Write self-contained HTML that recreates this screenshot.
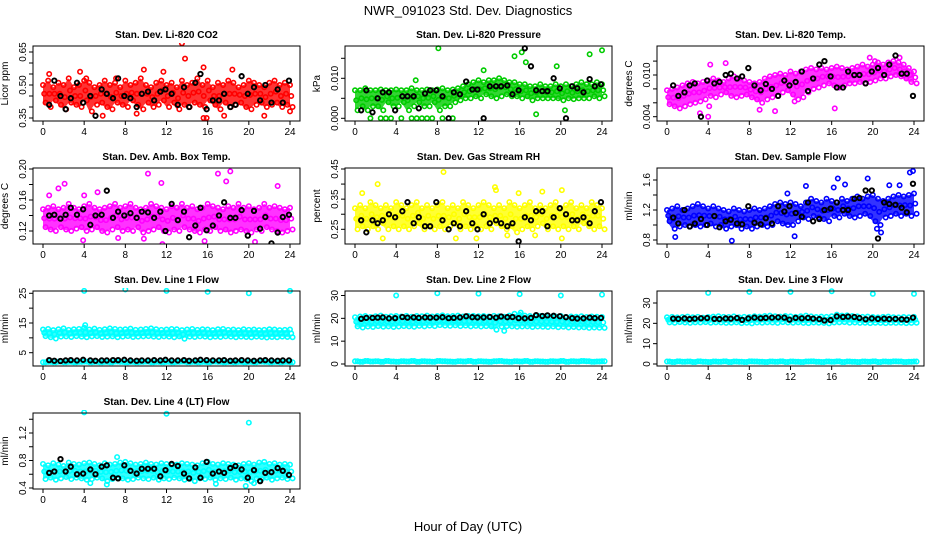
<!DOCTYPE html>
<html><head><meta charset="utf-8"><style>
body{margin:0;background:#fff;}
svg{display:block;font-family:"Liberation Sans",sans-serif;}
</style></head><body>
<svg id="chart" width="936" height="540" viewBox="0 0 936 540" xmlns="http://www.w3.org/2000/svg">
<text x="468" y="15" font-size="13" text-anchor="middle">NWR_091023  Std. Dev. Diagnostics</text>
<text x="468" y="531" font-size="13" text-anchor="middle">Hour of Day (UTC)</text>
</svg>
<script>
const hours=[0,0.5,1,1.5,2,2.5,3,3.5,4,4.5,5,5.5,6,6.5,7,7.5,8,8.5,9,9.5,10,10.5,11,11.5,12,12.5,13,13.5,14,14.5,15,15.5,16,16.5,17,17.5,18,18.5,19,19.5,20,20.5,21,21.5,22,22.5,23,23.5,24];
const hoursK=[0.6,1.1,1.7,2.2,2.7,3.3,3.9,4.6,5.1,5.7,6.2,6.8,7.3,7.9,8.5,9.1,9.6,10.2,10.8,11.4,11.9,12.5,13.1,13.7,14.2,14.8,15.3,15.9,16.5,17.1,17.6,18.2,18.7,19.3,19.9,20.5,21.1,21.6,22.2,22.8,23.3,23.9];
const xTicks=[0,4,8,12,16,20,24];

const co2A=[0.50,0.52,0.49,0.51,0.50,0.53,0.49,0.50,0.52,0.51,0.49,0.50,0.52,0.50,0.51,0.49,0.52,0.50,0.51,0.53,0.50,0.49,0.51,0.52,0.50,0.51,0.49,0.52,0.50,0.51,0.53,0.50,0.52,0.49,0.51,0.50,0.52,0.51,0.49,0.50,0.52,0.51,0.50,0.49,0.51,0.52,0.50,0.51,0.50];
const co2B=[0.42,0.40,0.43,0.41,0.39,0.42,0.41,0.40,0.43,0.38,0.41,0.42,0.40,0.39,0.42,0.41,0.40,0.43,0.41,0.39,0.42,0.40,0.41,0.43,0.40,0.42,0.39,0.41,0.40,0.42,0.41,0.40,0.43,0.41,0.39,0.42,0.40,0.41,0.42,0.40,0.39,0.41,0.42,0.40,0.41,0.42,0.40,0.41,0.40];
const co2Out=[[13.5,0.69],[13.8,0.62],[15.6,0.58],[9.8,0.57],[18.4,0.57],[0.6,0.55],[3.6,0.56],[11.7,0.56],[5.8,0.36],[15.6,0.35],[15.9,0.35],[21.5,0.36],[9.1,0.37],[17.6,0.36],[24,0.38],[4.2,0.53],[7.1,0.53]];
const co2K=[0.41,0.52,0.45,0.39,0.44,0.51,0.42,0.45,0.36,0.48,0.46,0.44,0.53,0.45,0.44,0.40,0.46,0.47,0.43,0.47,0.48,0.46,0.41,0.49,0.40,0.51,0.55,0.39,0.43,0.43,0.46,0.40,0.41,0.54,0.46,0.49,0.43,0.50,0.42,0.48,0.42,0.52];

const presA=[0.007,0.007,0.0075,0.007,0.007,0.0072,0.007,0.007,0.0072,0.007,0.007,0.0075,0.007,0.007,0.0072,0.007,0.0072,0.0075,0.007,0.0072,0.0075,0.008,0.0085,0.009,0.0095,0.009,0.0095,0.0095,0.01,0.0095,0.009,0.009,0.0085,0.0085,0.008,0.008,0.0085,0.008,0.008,0.0085,0.008,0.0085,0.008,0.0085,0.009,0.0085,0.0085,0.009,0.0085];
const presB=[0.002,0.003,0.002,0.003,0.003,0.002,0.004,0.003,0.003,0.004,0.002,0.003,0.004,0.003,0.003,0.004,0.002,0.003,0.003,0.004,0.0045,0.005,0.005,0.0055,0.005,0.006,0.0055,0.005,0.0055,0.006,0.0055,0.0055,0.005,0.0055,0.0045,0.005,0.005,0.005,0.005,0.005,0.0045,0.005,0.0048,0.005,0.005,0.005,0.0055,0.005,0.0055];
const presOut=[[1.5,0],[2.5,0],[3,0],[3.5,0],[4.5,0],[5.5,0],[6,0],[6.5,0],[7,0],[7.5,0],[8.5,0],[9.5,0],[8.1,0.0175],[16.2,0.0165],[22.8,0.016],[24,0.017],[15.5,0.0155],[16.6,0.014],[5.9,0.0095],[12.5,0.012],[17.6,0.001],[20.4,0.002],[19.6,0.013]];
const presK=[0.002,0.007,0.0015,0.005,0.0065,0.0065,0.002,0.0055,0.0055,0.0055,0.0025,0.0062,0.007,0.007,0.0055,0,0.0065,0.006,0.0092,0.0072,0.0072,0,0.008,0.008,0.008,0.0082,0.006,0.007,0.0175,0.013,0.007,0.0068,0.0068,0.010,0.0075,0,0.008,0.0075,0.0065,0.0098,0.008,0.0085];

const tempA=[0.0078,0.008,0.0082,0.0085,0.0088,0.009,0.0088,0.009,0.0092,0.0095,0.0092,0.009,0.0095,0.0098,0.0095,0.0092,0.009,0.0088,0.009,0.0095,0.0098,0.01,0.0102,0.01,0.0105,0.0102,0.0105,0.0108,0.011,0.0108,0.011,0.0108,0.011,0.0112,0.011,0.0108,0.011,0.0112,0.0115,0.0112,0.0115,0.0118,0.0115,0.0118,0.012,0.0118,0.0115,0.011,0.0105];
const tempB=[0.0058,0.0055,0.0052,0.0055,0.0058,0.006,0.0062,0.0065,0.007,0.0068,0.0072,0.0075,0.007,0.0068,0.007,0.0072,0.0068,0.0065,0.006,0.0065,0.0068,0.007,0.0075,0.0078,0.0072,0.0065,0.0068,0.0075,0.008,0.0082,0.0085,0.0088,0.0085,0.0082,0.0085,0.0088,0.0088,0.009,0.0088,0.009,0.0092,0.0095,0.0095,0.0098,0.01,0.0098,0.0095,0.009,0.0088];
const tempOut=[[3.2,0.0045],[4,0.004],[4.1,0.0055],[9,0.005],[10.5,0.0048],[16.3,0.0052],[19.7,0.0125],[22.6,0.0125],[20.2,0.012],[12.4,0.0062],[4.2,0.0115],[5.7,0.0117]];
const tempK=[0.0085,0.0070,0.0075,0.0085,0.0088,0.0040,0.0092,0.0088,0.0090,0.0100,0.0102,0.0095,0.0098,0.0110,0.0085,0.0078,0.0087,0.0080,0.0070,0.0092,0.0085,0.0090,0.0105,0.0077,0.0095,0.0115,0.0120,0.0098,0.0082,0.0082,0.0105,0.0100,0.0100,0.0088,0.0105,0.0110,0.0100,0.0115,0.0128,0.0102,0.0102,0.0070];

const ambA=[0.148,0.15,0.152,0.148,0.15,0.155,0.15,0.148,0.152,0.155,0.15,0.148,0.15,0.152,0.155,0.15,0.152,0.155,0.15,0.148,0.15,0.155,0.152,0.15,0.148,0.152,0.15,0.155,0.15,0.152,0.148,0.15,0.155,0.152,0.15,0.148,0.152,0.15,0.155,0.15,0.152,0.148,0.15,0.155,0.15,0.152,0.15,0.148,0.15];
const ambB=[0.125,0.122,0.12,0.125,0.122,0.12,0.123,0.125,0.12,0.122,0.125,0.12,0.118,0.122,0.125,0.12,0.122,0.12,0.125,0.118,0.12,0.122,0.125,0.12,0.118,0.122,0.12,0.125,0.122,0.12,0.118,0.122,0.12,0.125,0.12,0.122,0.118,0.12,0.122,0.12,0.118,0.122,0.12,0.125,0.122,0.12,0.118,0.12,0.122];
const ambOut=[[10.2,0.194],[17,0.194],[18.2,0.197],[11.5,0.182],[17.8,0.184],[22.8,0.178],[2.1,0.181],[1.5,0.175],[0.6,0.166],[4,0.166],[3.9,0.108],[7.3,0.111],[11.6,0.103],[15.7,0.107],[20.6,0.106],[9.8,0.11],[5.3,0.17]];
const ambK=[0.140,0.141,0.136,0.141,0.150,0.141,0.148,0.128,0.140,0.141,0.172,0.137,0.145,0.140,0.143,0.137,0.145,0.144,0.137,0.145,0.120,0.155,0.134,0.145,0.112,0.127,0.150,0.121,0.127,0.140,0.157,0.137,0.137,0.147,0.114,0.146,0.123,0.138,0.104,0.118,0.138,0.141];

const rhA=[0.32,0.33,0.32,0.34,0.33,0.32,0.33,0.32,0.34,0.33,0.32,0.33,0.34,0.32,0.33,0.32,0.33,0.34,0.32,0.33,0.32,0.34,0.33,0.32,0.33,0.34,0.33,0.32,0.33,0.32,0.34,0.33,0.32,0.33,0.34,0.32,0.33,0.32,0.33,0.34,0.32,0.33,0.34,0.32,0.33,0.32,0.34,0.33,0.32];
const rhB=[0.25,0.26,0.25,0.26,0.25,0.27,0.25,0.26,0.25,0.26,0.25,0.26,0.27,0.25,0.26,0.25,0.26,0.25,0.26,0.27,0.25,0.26,0.25,0.26,0.25,0.26,0.25,0.27,0.26,0.25,0.26,0.24,0.25,0.26,0.25,0.26,0.27,0.25,0.26,0.25,0.26,0.25,0.26,0.25,0.27,0.26,0.25,0.26,0.25];
const rhOut=[[8.6,0.44],[2.2,0.40],[13.6,0.39],[13.7,0.38],[20.1,0.38],[18.2,0.375],[0.7,0.37],[15.9,0.37],[2.7,0.22],[9.8,0.22],[11.8,0.22],[14.8,0.23],[20.1,0.22],[17.5,0.23]];
const rhK=[0.28,0.24,0.28,0.27,0.28,0.30,0.29,0.31,0.34,0.27,0.29,0.26,0.26,0.34,0.28,0.25,0.27,0.26,0.31,0.27,0.25,0.30,0.27,0.28,0.27,0.26,0.27,0.21,0.29,0.28,0.31,0.31,0.26,0.29,0.32,0.30,0.28,0.28,0.29,0.27,0.31,0.34];

const flowA=[1.2,1.22,1.25,1.2,1.22,1.25,1.28,1.25,1.22,1.25,1.22,1.2,1.18,1.22,1.2,1.18,1.2,1.22,1.2,1.22,1.25,1.28,1.3,1.28,1.3,1.28,1.25,1.3,1.35,1.32,1.3,1.35,1.32,1.3,1.35,1.32,1.35,1.38,1.35,1.38,1.4,1.35,1.32,1.35,1.38,1.4,1.38,1.4,1.42];
const flowB=[1.05,0.95,0.98,1.0,0.98,1.0,0.98,1.0,1.02,0.98,1.0,0.95,0.98,1.0,0.95,0.98,0.95,0.98,1.0,0.98,1.0,1.05,1.02,1.0,1.0,1.05,1.1,1.08,1.12,1.1,1.08,1.05,1.12,1.1,1.15,1.12,1.1,1.12,1.15,1.12,1.05,1.0,1.1,1.12,1.15,1.12,1.15,1.12,1.15];
const flowOut=[[6.3,0.79],[12.4,0.85],[20.4,0.95],[20.8,0.9],[0.8,0.84],[16.6,1.62],[19.5,1.62],[23.6,1.7],[23.9,1.72],[13.5,1.52],[17.3,1.54],[21.6,1.53],[22.6,1.53],[16.2,1.5],[11.7,1.42]];
const flowK=[1.1,1.02,1.2,0.98,1.02,1.08,1.0,1.12,0.97,1.05,1.07,1.02,1.01,1.25,1.03,1.01,1.09,1.02,1.25,1.18,1.25,1.16,1.11,1.3,1.05,1.08,1.2,1.22,1.3,1.2,1.2,1.35,1.36,1.46,1.46,0.82,1.3,1.28,1.27,1.23,1.17,1.55];

const l1A=[12.8,13,12.6,12.9,13.2,12.7,12.9,13,13.4,12.8,13.1,12.7,12.9,13.2,13,12.8,12.9,13.1,12.7,12.8,13,13.2,12.9,12.7,12.8,13,12.9,12.6,12.8,13,12.7,12.9,12.8,12.6,12.9,13,12.7,12.8,12.6,12.9,12.7,12.8,12.6,12.7,12.9,12.8,12.6,12.7,12.8];
const l1B=[10.6,10.2,9.8,10.4,10.5,10.3,10.6,10.4,10.2,10.5,10.6,10.3,10.4,10.5,10.2,10.4,10.6,10.3,10.4,10.5,10.6,10.4,10.3,10.5,10.4,10.2,10.5,9.7,10.4,10.3,10.5,10.4,10.2,10.4,10.3,10.5,10.4,10.2,10.4,10.3,10.2,10.4,10.3,10.1,10.3,10.2,10.4,10.3,10.2];
const l1Low=[1.8,1.9,1.8,2,1.8,1.9,1.8,1.9,2,1.8,1.9,1.8,1.9,1.8,2,1.9,1.8,1.9,1.8,1.9,2,1.8,1.9,1.8,1.9,1.8,1.9,2,1.8,1.9,1.8,1.9,1.8,2,1.9,1.8,1.9,1.8,1.9,1.8,1.9,1.8,2,1.9,1.8,1.9,1.8,1.9,1.8];
const l1Out=[[4,25.8],[8,26.3],[12,25.8],[16,25.5],[20,25],[24,25.8],[4.1,14.3]];
const l1K=[2.5,2.3,2.2,2.4,2.5,2.4,2.6,2.4,2.3,2.4,2.4,2.5,2.5,2.6,2.4,2.3,2.4,2.4,2.5,2.4,2.6,2.4,2.4,2.5,2.3,2.4,2.6,2.5,2.4,2.4,2.5,2.3,2.4,2.5,2.4,2.3,2.4,2.5,2.4,2.3,2.4,2.4];

const l2A=[20.5,20.8,21,20.6,20.9,21.2,20.7,20.9,21,20.8,21.1,20.7,21,20.9,21.2,20.8,21,21.3,20.9,21,21.2,20.8,21,21.1,20.9,21,20.8,21.1,20.9,20.7,21.2,22,21.5,21.2,21,20.8,21,20.9,20.7,20.8,21,20.6,20.8,20.7,20.9,20.6,20.8,20.7,20.6];
const l2B=[16.5,16,16.4,16.2,16.6,16.3,16.5,16.2,16.4,16.6,16.5,16.3,16.7,16.5,16.8,16.6,17,16.8,16.7,16.9,16.6,16.8,16.5,16.7,16.4,16.6,16.5,15,16.4,16.6,16.5,16.3,16.4,16.5,16.2,16.4,16.3,16.2,16.4,16.1,16.3,16,16.2,16,16.1,15.8,16,15.9,15.8];
const l2Low=[1.2,1,1.3,1.1,1.2,1,1.3,1.1,1,1.2,1.1,1.3,1,1.2,1.1,1,1.3,1.2,1.1,1,1.2,1.1,1.3,1,1.2,1.1,1,1.2,1.3,1.1,1,1.2,1.1,1.3,1,1.2,1.1,1,1.2,1.1,1.3,1,1.2,1.1,1.3,1.2,1,1.1,1.2];
const l2Out=[[4,30],[8,31],[12,30.8],[16,30.6],[20,30],[24,30.4],[16.1,22.5],[14.5,14.5]];
const l2K=[19.8,20.2,20.2,20.3,20.4,20,20.1,20.6,20.3,20.4,20.2,20.4,20.3,20.3,20.5,20.1,20.2,20.4,20.9,20.5,20.4,20.4,20.6,20.3,20.8,20.5,20.6,20.1,20,20.2,21.4,21,21.3,21.1,20.9,20.5,20.1,19.9,20,20.3,20.1,20.2];

const l3A=[23,23.2,22.9,23.1,23.3,23,23.2,22.8,23.1,23.3,23.5,23.2,23.1,23.4,23,23.2,23.1,23.5,23.3,23.6,23.8,23.5,23.3,23.6,23.4,23.2,23.5,23.8,23.4,23.1,23.3,23.2,23.5,24.3,23.8,23.9,23.6,23.4,23.2,23.3,23.1,22.9,23.2,23.3,23,22.9,23.1,23,23.2];
const l3B=[20.5,20.3,20.6,20.4,20.2,20.5,20.4,20.6,20.3,20.5,20.4,20.2,20.3,20.5,20.1,20.3,20,20.4,20.3,20.5,20.4,20.2,20.6,20.4,20.3,20.5,20.2,20.1,20.4,20.3,20.2,20,20.4,20.5,20.6,20.3,20.4,20.2,20.3,20.1,20.3,20.2,20.1,20.3,20.2,20.3,20.1,20.2,20.3];
const l3Low=[1.2,1,1.3,1.1,1.2,1,1.3,1.1,1,1.2,1.1,1.3,1,1.2,1.1,1,1.3,1.2,1.1,1,1.2,1.1,1.3,1,1.2,1.1,1,1.2,1.3,1.1,1,1.2,1.1,1.3,1,1.2,1.1,1,1.2,1.1,1.3,1,1.2,1.1,1.3,1.2,1,1.1,1.2];
const l3Out=[[4,35],[8,35.5],[12,35.5],[16,35.8],[20,34.5],[24,34.5]];
const l3K=[22.3,22.2,22.4,22.1,22.3,22.5,22.6,22.2,22.1,22.4,22.3,22.6,21.7,22.4,22.8,22.5,22.7,22.8,22.9,22.8,21.8,22.7,22.5,22.7,22.3,22.1,21.4,21.6,23.4,23.1,23.3,23.1,22.6,22,22.4,22.2,22.3,22.1,22.2,22,21.8,22.8];

const l4A=[0.75,0.73,0.76,0.74,0.72,0.77,0.75,0.74,0.76,0.77,0.75,0.73,0.76,0.74,0.75,0.77,0.78,0.76,0.74,0.75,0.77,0.75,0.74,0.76,0.75,0.73,0.74,0.76,0.75,0.74,0.73,0.76,0.78,0.75,0.74,0.76,0.75,0.74,0.73,0.75,0.76,0.74,0.77,0.78,0.75,0.76,0.74,0.75,0.74];
const l4B=[0.53,0.55,0.52,0.54,0.56,0.53,0.55,0.54,0.52,0.53,0.55,0.54,0.5,0.53,0.55,0.54,0.52,0.53,0.55,0.54,0.53,0.55,0.52,0.54,0.53,0.55,0.54,0.52,0.53,0.5,0.54,0.53,0.55,0.52,0.54,0.53,0.55,0.52,0.54,0.53,0.5,0.54,0.53,0.55,0.52,0.54,0.55,0.53,0.54];
const l4Out=[[4,1.5],[12,1.48],[20,1.35],[6.2,0.45],[19.7,0.43],[4.6,0.47],[7.2,0.85],[16.8,0.46],[20.5,0.47]];
const l4K=[0.62,0.64,0.82,0.64,0.71,0.6,0.61,0.67,0.6,0.71,0.73,0.55,0.54,0.73,0.65,0.61,0.68,0.68,0.68,0.57,0.66,0.75,0.72,0.61,0.54,0.7,0.55,0.78,0.61,0.64,0.62,0.69,0.72,0.67,0.55,0.66,0.5,0.62,0.63,0.69,0.65,0.59];

const co2Ticks=[0.35,0.40,0.45,0.50,0.55,0.60,0.65], co2Labels=['0.35','','','0.50','','','0.65'];
const presTicks=[0,0.005,0.01,0.015], presLabels=['0.000','','0.010',''];
const tempTicks=[0.004,0.006,0.008,0.010,0.012], tempLabels=['0.004','','','0.010',''];
const ambTicks=[0.12,0.14,0.16,0.18,0.20], ambLabels=['0.12','','0.16','','0.20'];
const rhTicks=[0.25,0.30,0.35,0.40,0.45], rhLabels=['0.25','','0.35','','0.45'];
const flowTicks=[0.8,1.0,1.2,1.4,1.6], flowLabels=['0.8','','1.2','','1.6'];
const l1Ticks=[5,10,15,20,25], l1Labels=['5','','15','','25'];
const l2Ticks=[0,10,20,30], l2Labels=['0','10','20','30'];
const l3Ticks=[0,10,20,30], l3Labels=['0','10','20','30'];
const l4Ticks=[0.4,0.6,0.8,1.0,1.2,1.4], l4Labels=['0.4','','0.8','','1.2',''];

const colX=[43,355,667];
const rowY=[[46,121],[168,244],[291,366],[413,489]];
const panels=[
 {id:'co2',title:'Stan. Dev. Li-820 CO2',ylab:'Licor ppm',col:0,row:0,color:'#ff0000',v:[0.35,118,0.65,52],a:co2A,b:co2B,out:co2Out,k:co2K,ticks:co2Ticks,labels:co2Labels},
 {id:'pressure',title:'Stan. Dev. Li-820 Pressure',ylab:'kPa',col:1,row:0,color:'#00cc00',v:[0,118.3,0.01,78.3],a:presA,b:presB,out:presOut,k:presK,ticks:presTicks,labels:presLabels},
 {id:'temp',title:'Stan. Dev. Li-820 Temp.',ylab:'degrees C',col:2,row:0,color:'#ff00ff',v:[0.004,116.7,0.010,75],a:tempA,b:tempB,out:tempOut,k:tempK,ticks:tempTicks,labels:tempLabels},
 {id:'amb',title:'Stan. Dev. Amb. Box Temp.',ylab:'degrees C',col:0,row:1,color:'#ff00ff',v:[0.12,231,0.20,169],a:ambA,b:ambB,out:ambOut,k:ambK,ticks:ambTicks,labels:ambLabels},
 {id:'rh',title:'Stan. Dev. Gas Stream RH',ylab:'percent',col:1,row:1,color:'#ffff00',v:[0.25,229.3,0.45,169],a:rhA,b:rhB,out:rhOut,k:rhK,ticks:rhTicks,labels:rhLabels},
 {id:'sample-flow',title:'Stan. Dev. Sample Flow',ylab:'ml/min',col:2,row:1,color:'#0000ff',v:[0.8,240,1.6,180],a:flowA,b:flowB,out:flowOut,k:flowK,ticks:flowTicks,labels:flowLabels},
 {id:'line1',title:'Stan. Dev. Line 1 Flow',ylab:'ml/min',col:0,row:2,color:'#00ffff',v:[5,352.7,25,293.3],a:l1A,b:l1B,low:l1Low,out:l1Out,k:l1K,ticks:l1Ticks,labels:l1Labels},
 {id:'line2',title:'Stan. Dev. Line 2 Flow',ylab:'ml/min',col:1,row:2,color:'#00ffff',v:[0,364,30,295.5],a:l2A,b:l2B,low:l2Low,out:l2Out,k:l2K,ticks:l2Ticks,labels:l2Labels},
 {id:'line3',title:'Stan. Dev. Line 3 Flow',ylab:'ml/min',col:2,row:2,color:'#00ffff',v:[0,364,30,303],a:l3A,b:l3B,low:l3Low,out:l3Out,k:l3K,ticks:l3Ticks,labels:l3Labels},
 {id:'line4',title:'Stan. Dev. Line 4 (LT) Flow',ylab:'ml/min',col:0,row:3,color:'#00ffff',v:[0.4,488,1.2,433],a:l4A,b:l4B,out:l4Out,k:l4K,ticks:l4Ticks,labels:l4Labels}
];
const NS='http://www.w3.org/2000/svg';
const svg=document.getElementById('chart');
function mk(tag,attrs,parent){const e=document.createElementNS(NS,tag);for(const k in attrs)e.setAttribute(k,attrs[k]);parent.appendChild(e);return e;}
panels.forEach(p=>{
 const x0=colX[p.col], sc=247/24;
 const X=h=>x0+h*sc;
 const Y=v=>p.v[1]+(v-p.v[0])*(p.v[3]-p.v[1])/(p.v[2]-p.v[0]);
 const [top,bot]=rowY[p.row]; const left=x0-10, right=x0+257;
 const g=mk('g',{},svg);
 
 
 const clip=mk('clipPath',{id:'c-'+p.id},g); mk('rect',{x:left,y:top-3,width:right-left,height:bot-top+3},clip);
 const t=mk('text',{x:(left+right)/2,y:top-8,'font-size':10,'font-weight':'bold','text-anchor':'middle'},g); t.textContent=p.title;
 
 
 const yl=mk('text',{transform:`translate(${left-25},${(top+bot)/2}) rotate(-90)`,'font-size':10,'text-anchor':'middle'},g); yl.textContent=p.ylab;
 
 
 const d=mk('g',{'clip-path':`url(#c-${p.id})`},g);
 
 
 let pts=hours.map((h,i)=>X(h)+','+Y(p.a[i]));
 pts=pts.concat(hours.slice().reverse().map((h,j)=>X(h)+','+Y(p.b[hours.length-1-j])));
 const band=mk('polygon',{points:pts.join(' '),fill:p.color,'fill-opacity':0.8,stroke:'none'},d);
 
 
 const circ=(h,v,col,cls,w)=>{const c=mk('circle',{cx:X(h),cy:Y(v),r:2.2,fill:'none',stroke:col,'stroke-width':w||1.6},d);
  
  };
 hours.forEach((h,i)=>{circ(h,p.a[i],p.color,'point');circ(h+0.25,p.b[i],p.color,'point');
  circ(h+0.12,(p.a[i]+p.b[i])/2,p.color,'point');});
 if(p.low) hours.forEach((h,i)=>{circ(h,p.low[i],p.color,'point');circ(h+0.25,p.low[i],p.color,'point');});
 p.out.forEach(o=>circ(o[0],o[1],p.color,'outlier-point'));
 hoursK.forEach((h,i)=>circ(h,p.k[i],'#000','black-point',1.9));
 const box=mk('rect',{x:left,y:top,width:right-left,height:bot-top,fill:'none',stroke:'#000','stroke-width':1},g);
 
 
 const xa=mk('g',{},g);
 
 
 mk('line',{x1:X(0),x2:X(24),y1:bot,y2:bot,stroke:'#000'},xa);
 xTicks.forEach(h=>{mk('line',{x1:X(h),x2:X(h),y1:bot,y2:bot+4,stroke:'#000'},xa);
  const l=mk('text',{x:X(h),y:bot+14,'font-size':10,'text-anchor':'middle'},xa); l.textContent=h;});
 const ya=mk('g',{},g);
 
 
 mk('line',{x1:left,x2:left,y1:Y(p.ticks[0]),y2:Y(p.ticks[p.ticks.length-1]),stroke:'#000'},ya);
 p.ticks.forEach((v,i)=>{mk('line',{x1:left-4,x2:left,y1:Y(v),y2:Y(v),stroke:'#000'},ya);
  if(p.labels[i]){const l=mk('text',{transform:`translate(${left-7},${Y(v)}) rotate(-90)`,'font-size':10,'text-anchor':'middle'},ya); l.textContent=p.labels[i];}});
});
</script>
</body></html>
